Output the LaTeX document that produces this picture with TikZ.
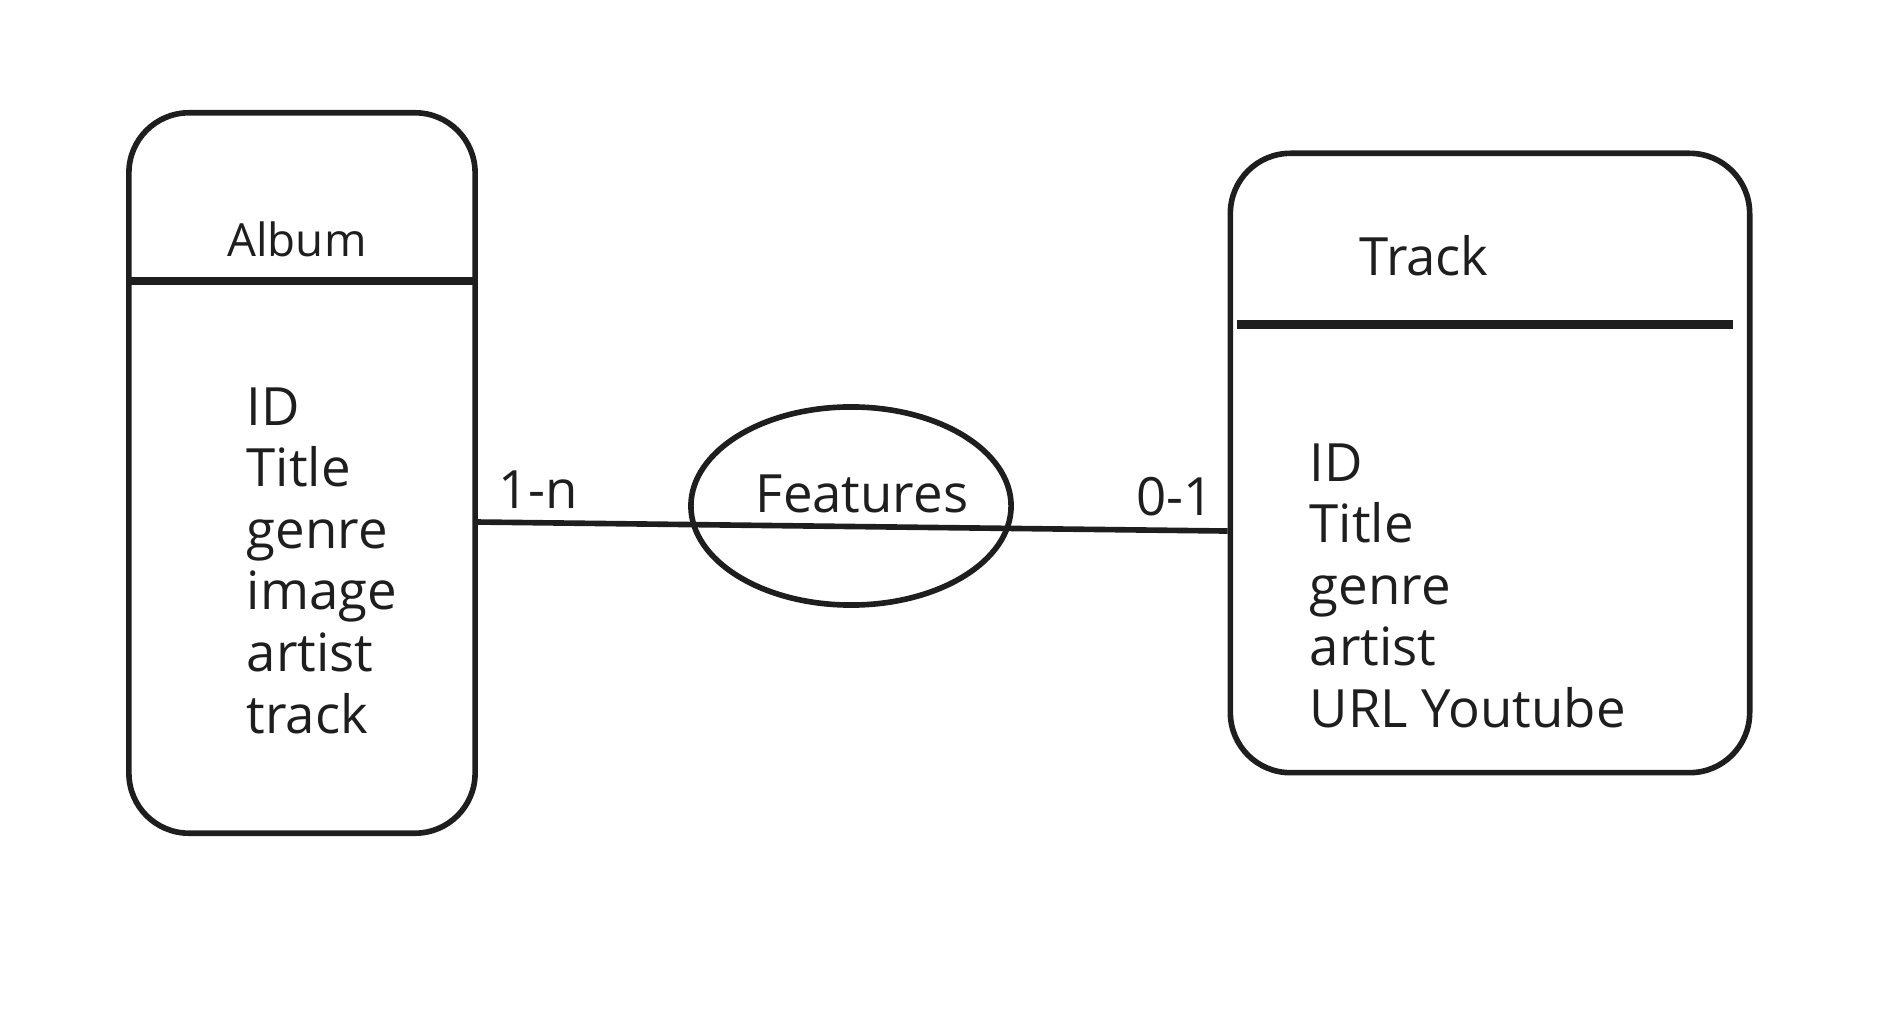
\documentclass[tikz,border=0pt]{standalone}
\usepackage{fontspec}
\setmainfont{Open Sans}
\usetikzlibrary{shapes.geometric,positioning}
\definecolor{ink}{HTML}{1E1E1E}

\tikzstyle{entity} = [rectangle, rounded corners=0.6cm, draw=ink, line width=1.6pt]
\tikzstyle{rel} = [ellipse, draw=ink, line width=1.6pt, minimum width=3.2cm, minimum height=1.98cm, inner sep=0pt]
\tikzstyle{attr} = [align=left, anchor=north west, inner sep=0pt, text=ink]
\tikzstyle{head} = [text=ink]
\tikzstyle{divider} = [draw=ink, line width=2.4pt]
\tikzstyle{link} = [draw=ink, line width=1.6pt]

\begin{document}
\begin{tikzpicture}[x=0.01cm,y=-0.01cm,font=\fontsize{15}{17.5}\selectfont]
\useasboundingbox (0,0) rectangle (1892,1016);

% album side
\node[entity, minimum width=3.46cm, minimum height=7.2cm] (Album) at (302,473) {};
\node[head, font=\fontsize{13}{15}\selectfont] (AlbumName) at (297,239) {Album};
\draw[divider] ([yshift=-1.71cm]Album.north west) -- ([yshift=-1.71cm]Album.north east);
\node[attr] (AlbumAttr) at (246,387) {ID\\Title\\genre\\image\\artist\\track};

% track side
\node[entity, minimum width=5.19cm, minimum height=6.19cm] (Track) at (1490,463) {};
\node[head] (TrackName) at (1424,256) {Track};
\draw[divider] ([xshift=0.09cm,yshift=-1.74cm]Track.north west) -- ([xshift=-0.19cm,yshift=-1.74cm]Track.north east);
\node[attr] (TrackAttr) at (1309,443) {ID\\Title\\genre\\artist\\URL Youtube};

% relation
\node[rel] (Features) at (851,506) {};
\node[head] (FeaturesName) at (862,494) {Features};

\path ([yshift=-0.49cm]Album.east) edge[link] node[pos=0.08,above,text=ink] {1-n} node[pos=0.93,above,text=ink] {0-1} ([yshift=-0.68cm]Track.west);

\end{tikzpicture}
\end{document}
